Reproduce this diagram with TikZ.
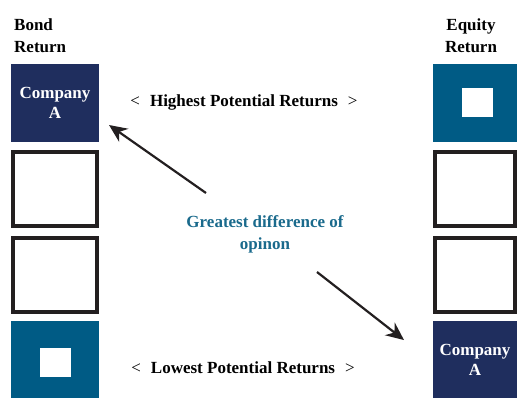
\documentclass[tikz,border=0pt]{standalone}
\usepackage{fontspec}
\setmainfont{Liberation Serif}
\usetikzlibrary{arrows.meta}
\definecolor{navy}{RGB}{31,46,94}
\definecolor{tealbox}{RGB}{0,91,133}
\definecolor{tealtext}{RGB}{26,106,140}
\definecolor{outl}{RGB}{35,31,32}
\tikzset{
  txt/.style={font=\fontsize{17}{21}\selectfont\bfseries, inner sep=0pt},
  navybox/.style={fill=navy, text=white, minimum width=88pt, minimum height=78pt, inner sep=0pt, align=center, font=\fontsize{17}{20}\selectfont\bfseries},
  tealsq/.style={fill=tealbox, minimum width=88pt, minimum height=78pt, inner sep=0pt},
  emptybox/.style={draw=outl, line width=4pt, fill=white, minimum width=84pt, minimum height=74pt, inner sep=0pt},
  narrow/.style={minimum width=84pt},
  narrowempty/.style={minimum width=80pt},
  whitesq/.style={fill=white, minimum width=31pt, minimum height=29pt, inner sep=0pt},
  arr/.style={draw=outl, line width=2.2pt, -{Stealth[length=18pt,width=16pt]}}
}
\begin{document}
\begin{tikzpicture}[x=1pt,y=-1pt]
\useasboundingbox (0,0) rectangle (518,397);
% headers
\node[txt, anchor=base west] (bond1) at (14,30) {Bond};
\node[txt, anchor=base west] (bond2) at (14,52) {Return};
\node[txt, anchor=base] (eq1) at (471,30) {Equity};
\node[txt, anchor=base] (eq2) at (471,52) {Return};
% left column
\node[navybox] (l1) at (55,103) {Company\\A};
\node[emptybox] (l2) at (55,189) {};
\node[emptybox] (l3) at (55,275) {};
\node[tealsq] (l4) at (55,360) {};
\node[whitesq] (l4s) at (55,362) {};
% right column
\node[tealsq, narrow] (r1) at (475,103) {};
\node[whitesq] (r1s) at (477,102) {};
\node[emptybox, narrowempty] (r2) at (475,189) {};
\node[emptybox, narrowempty] (r3) at (475,275) {};
\node[navybox, narrow] (r4) at (475,360) {Company\\A};
% middle texts
\node[txt, anchor=base] (high) at (244,106) {\mdseries<\hspace{10pt}\bfseries Highest Potential Returns\hspace{10pt}\mdseries>};
\node[txt, anchor=base, text=tealtext] (gd1) at (265,227) {Greatest difference of};
\node[txt, anchor=base, text=tealtext] (gd2) at (265,249) {opinon};
\node[txt, anchor=base] (low) at (243,373) {\mdseries<\hspace{10pt}\bfseries Lowest Potential Returns\hspace{10pt}\mdseries>};
% arrows
\coordinate (a1s) at (206,193);
\coordinate (a1e) at (109,125);
\coordinate (a2s) at (317,272);
\coordinate (a2e) at (404,340);
\draw[arr] (a1s) -- (a1e);
\draw[arr] (a2s) -- (a2e);
\end{tikzpicture}
\end{document}
